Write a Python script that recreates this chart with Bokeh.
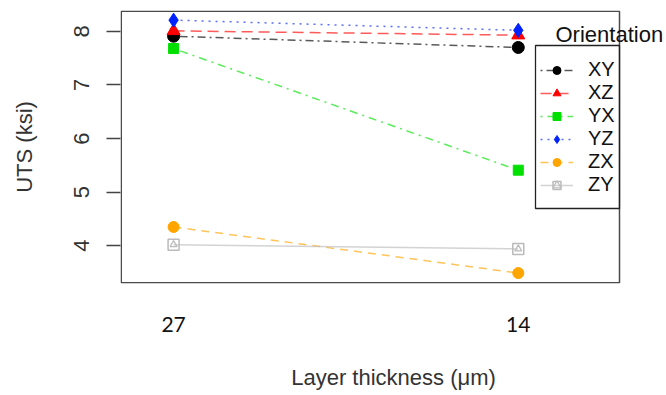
from bokeh.plotting import figure
from bokeh.models import (Range1d, FixedTicker, Legend, LegendItem, Label,
                          BoxAnnotation)
from bokeh.embed import file_html
from bokeh.resources import INLINE

# ---- data ----
thickness = ["27", "14"]
orientations = ["XY", "XZ", "YX", "YZ", "ZX", "ZY"]
uts_XY = [7.91, 7.70]
uts_XZ = [8.01, 7.93]
uts_YX = [7.68, 5.41]
uts_YZ = [8.21, 8.02]
uts_ZX = [4.35, 3.49]
uts_ZY = [4.02, 3.94]
y_ticks = [4, 5, 6, 7, 8]

series = {"XY": uts_XY, "XZ": uts_XZ, "YX": uts_YX,
          "YZ": uts_YZ, "ZX": uts_ZX, "ZY": uts_ZY}

styles = {
    "XY": dict(color="#000000", dash="2 4 8 4", marker="circle", size=12),
    "XZ": dict(color="#FF0000", dash="11 6", marker="triangle", size=13),
    "YX": dict(color="#00E000", dash="2 5 8 5", marker="square", size=10),
    "YZ": dict(color="#0022FF", dash="2 5", marker="diamond", size=14),
    "ZX": dict(color="#FFA500", dash="8 6", marker="circle", size=11),
    "ZY": dict(color="#BBBBBB", dash="solid", marker="square", size=11),
}

x_pos = [i + 1 for i in range(len(thickness))]

p = figure(width=666, height=395, output_backend="svg", toolbar_location=None,
           x_range=Range1d(0.846, 2.430), y_range=Range1d(3.295, 8.39),
           min_border_left=120, min_border_right=0, min_border_top=10,
           min_border_bottom=112)
p.grid.visible = False
p.outline_line_color = None
p.background_fill_color = "white"
p.border_fill_color = "white"

# plot box (frame extends to the right edge so the legend title fits)
p.add_layout(BoxAnnotation(left=0.75, right=499, bottom=0.75, top=272.25,
                           left_units="screen", right_units="screen",
                           bottom_units="screen", top_units="screen",
                           fill_color=None, fill_alpha=0,
                           line_color="#4a4a4a", line_alpha=1.0,
                           line_width=1.5))

# y axis
ya = p.yaxis[0]
ya.ticker = FixedTicker(ticks=y_ticks)
ya.major_tick_out = 14
ya.major_tick_in = 0
ya.minor_tick_line_color = None
ya.axis_line_color = None
ya.major_tick_line_color = "#444444"
ya.major_tick_line_width = 1.5
ya.major_label_orientation = "vertical"
ya.major_label_text_font = "Liberation Sans"
ya.major_label_text_font_size = "22px"
ya.major_label_text_color = "#333333"
ya.major_label_standoff = 17
ya.axis_label = "UTS (ksi)"
ya.axis_label_text_font = "Liberation Sans"
ya.axis_label_text_font_size = "22px"
ya.axis_label_text_font_style = "normal"
ya.axis_label_text_color = "#333333"
ya.axis_label_standoff = 35

# x axis
xa = p.xaxis[0]
xa.ticker = FixedTicker(ticks=x_pos)
xa.major_label_overrides = {x: t for x, t in zip(x_pos, thickness)}
xa.axis_line_color = None
xa.major_tick_line_color = None
xa.minor_tick_line_color = None
xa.major_label_text_font = "Lato"
xa.major_label_text_font_size = "21px"
xa.major_label_text_color = "#111111"
xa.major_label_standoff = 27
xa.axis_label = "Layer thickness (\u03bcm)"
xa.axis_label_text_font = "Liberation Sans"
xa.axis_label_text_font_size = "22px"
xa.axis_label_text_font_style = "normal"
xa.axis_label_text_color = "#333333"
xa.axis_label_standoff = 30

items = []
for name in orientations:
    st = styles[name]
    ys = series[name]
    lr = p.line(x_pos, ys, line_color=st["color"], line_width=1.5,
                line_dash=st["dash"], line_alpha=0.65)
    rs = [lr]
    if name == "ZY":
        s1 = p.scatter(x_pos, ys, marker="square", size=st["size"],
                       fill_color=None, line_color=st["color"], line_width=1.5)
        s2 = p.scatter(x_pos, ys, marker="triangle", size=7,
                       fill_color=None, line_color=st["color"], line_width=1.2)
        rs += [s1, s2]
    else:
        s = p.scatter(x_pos, ys, marker=st["marker"], size=st["size"],
                      fill_color=st["color"], line_color=st["color"])
        rs.append(s)
    items.append(LegendItem(label=name, renderers=rs))

legend = Legend(items=items, location=(420, 87), orientation="vertical",
                padding=0, margin=0, spacing=0, glyph_width=33,
                glyph_height=20, label_height=20, label_standoff=15,
                label_text_font="Liberation Sans", label_text_font_size="20px",
                label_text_color="#111111", border_line_color=None,
                background_fill_alpha=0)
p.add_layout(legend, "center")

p.add_layout(BoxAnnotation(left=415, right=499, bottom=75, top=238,
                           left_units="screen", right_units="screen",
                           bottom_units="screen", top_units="screen",
                           fill_color=None, fill_alpha=0,
                           line_color="#222222", line_alpha=1.0,
                           line_width=1.3))

p.add_layout(Label(x=435, y=249, x_units="screen", y_units="screen",
                   text="Orientation", text_font="Liberation Sans",
                   text_font_size="22px", text_color="#111111",
                   text_baseline="middle", text_align="left"))

open("out.html", "w").write(file_html(p, INLINE))
